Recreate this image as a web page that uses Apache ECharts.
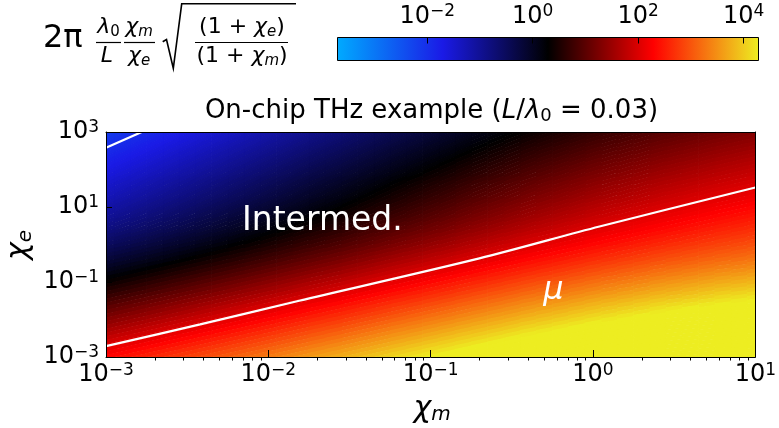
<!DOCTYPE html>
<html>
<head>
<meta charset="utf-8">
<script src="https://cdn.jsdelivr.net/npm/echarts@6/dist/echarts.min.js"></script>
<style>
  html, body { margin: 0; padding: 0; background: #fff; }
  #chart { width: 779px; height: 428px; }
</style>
</head>
<body>
<div id="chart"></div>
<script>
// log10(chi_m) at the centre of each column
const chiMExp = [-3.0,-2.9,-2.8,-2.7,-2.6,-2.5,-2.4,-2.3,-2.2,-2.1,-2.0,-1.9,-1.8,-1.7,-1.6,-1.5,-1.4,-1.3,-1.2,-1.1,-1.0,
                 -0.9,-0.8,-0.7,-0.6,-0.5,-0.4,-0.3,-0.2,-0.1,0.0,0.1,0.2,0.3,0.4,0.5,0.6,0.7,0.8,0.9,1.0];

// log10(chi_e) at the centre of each row, top row first
const chiEExp = [3.0,2.9,2.8,2.7,2.6,2.5,2.4,2.3,2.2,2.1,2.0,1.9,1.8,1.7,1.6,1.5,1.4,1.3,1.2,1.1,1.0,
                 0.9,0.8,0.7,0.6,0.5,0.4,0.3,0.2,0.1,0.0,-0.1,-0.2,-0.3,-0.4,-0.5,-0.6,-0.7,-0.8,-0.9,-1.0,
                 -1.1,-1.2,-1.3,-1.4,-1.5,-1.6,-1.7,-1.8,-1.9,-2.0,-2.1,-2.2,-2.3,-2.4,-2.5,-2.6,-2.7,-2.8,-2.9,-3.0];

// log10 of the plotted ratio, one row per chi_e value (same order as chiEExp)
const log10Ratio = [
  [-2.18,-2.08,-1.98,-1.88,-1.78,-1.68,-1.58,-1.48,-1.38,-1.28,-1.18,-1.08,-0.98,-0.88,-0.79,-0.69,-0.59,-0.49,-0.39,-0.30,-0.20,-0.11,-0.01,0.08,0.17,0.26,0.35,0.43,0.51,0.59,0.67,0.74,0.81,0.88,0.95,1.01,1.07,1.13,1.19,1.24,1.30],
  [-2.13,-2.03,-1.93,-1.83,-1.73,-1.63,-1.53,-1.43,-1.33,-1.23,-1.13,-1.03,-0.93,-0.83,-0.74,-0.64,-0.54,-0.44,-0.34,-0.25,-0.15,-0.06,0.04,0.13,0.22,0.31,0.40,0.48,0.56,0.64,0.72,0.79,0.86,0.93,1.00,1.06,1.12,1.18,1.24,1.29,1.35],
  [-2.08,-1.98,-1.88,-1.78,-1.68,-1.58,-1.48,-1.38,-1.28,-1.18,-1.08,-0.98,-0.88,-0.78,-0.69,-0.59,-0.49,-0.39,-0.29,-0.20,-0.10,-0.01,0.09,0.18,0.27,0.36,0.45,0.53,0.61,0.69,0.77,0.84,0.91,0.98,1.05,1.11,1.17,1.23,1.29,1.34,1.40],
  [-2.03,-1.93,-1.83,-1.73,-1.63,-1.53,-1.43,-1.33,-1.23,-1.13,-1.03,-0.93,-0.83,-0.73,-0.64,-0.54,-0.44,-0.34,-0.24,-0.15,-0.05,0.04,0.14,0.23,0.32,0.41,0.50,0.58,0.66,0.74,0.82,0.89,0.96,1.03,1.10,1.16,1.22,1.28,1.34,1.39,1.45],
  [-1.98,-1.88,-1.78,-1.68,-1.58,-1.48,-1.38,-1.28,-1.18,-1.08,-0.98,-0.88,-0.78,-0.68,-0.59,-0.49,-0.39,-0.29,-0.19,-0.10,0.00,0.09,0.19,0.28,0.37,0.46,0.55,0.63,0.71,0.79,0.87,0.94,1.01,1.08,1.15,1.21,1.27,1.33,1.39,1.44,1.50],
  [-1.93,-1.83,-1.73,-1.63,-1.53,-1.43,-1.33,-1.23,-1.13,-1.03,-0.93,-0.83,-0.73,-0.63,-0.54,-0.44,-0.34,-0.24,-0.14,-0.05,0.05,0.14,0.24,0.33,0.42,0.51,0.60,0.68,0.76,0.84,0.92,0.99,1.06,1.13,1.20,1.26,1.32,1.38,1.44,1.49,1.55],
  [-1.88,-1.78,-1.68,-1.58,-1.48,-1.38,-1.28,-1.18,-1.08,-0.98,-0.88,-0.78,-0.68,-0.58,-0.49,-0.39,-0.29,-0.19,-0.09,0.00,0.10,0.19,0.29,0.38,0.47,0.56,0.65,0.73,0.81,0.89,0.97,1.04,1.11,1.18,1.25,1.31,1.37,1.43,1.49,1.54,1.60],
  [-1.83,-1.73,-1.63,-1.53,-1.43,-1.33,-1.23,-1.13,-1.03,-0.93,-0.83,-0.73,-0.63,-0.53,-0.44,-0.34,-0.24,-0.14,-0.04,0.05,0.15,0.24,0.34,0.43,0.52,0.61,0.70,0.78,0.86,0.94,1.02,1.09,1.16,1.23,1.30,1.36,1.42,1.48,1.54,1.59,1.65],
  [-1.78,-1.68,-1.58,-1.48,-1.38,-1.28,-1.18,-1.08,-0.98,-0.88,-0.78,-0.68,-0.58,-0.48,-0.39,-0.29,-0.19,-0.09,0.01,0.10,0.20,0.29,0.39,0.48,0.57,0.66,0.75,0.83,0.91,0.99,1.07,1.14,1.21,1.28,1.35,1.41,1.47,1.53,1.59,1.64,1.70],
  [-1.73,-1.63,-1.53,-1.43,-1.33,-1.23,-1.13,-1.03,-0.93,-0.83,-0.73,-0.63,-0.53,-0.43,-0.34,-0.24,-0.14,-0.04,0.06,0.15,0.25,0.34,0.44,0.53,0.62,0.71,0.80,0.88,0.96,1.04,1.12,1.19,1.26,1.33,1.40,1.46,1.52,1.58,1.64,1.69,1.75],
  [-1.68,-1.58,-1.48,-1.38,-1.28,-1.18,-1.08,-0.98,-0.88,-0.78,-0.68,-0.58,-0.48,-0.38,-0.29,-0.19,-0.09,0.01,0.11,0.20,0.30,0.39,0.49,0.58,0.67,0.76,0.85,0.93,1.01,1.09,1.17,1.24,1.31,1.38,1.45,1.51,1.57,1.63,1.69,1.74,1.80],
  [-1.63,-1.53,-1.43,-1.33,-1.23,-1.13,-1.03,-0.93,-0.83,-0.73,-0.63,-0.53,-0.43,-0.33,-0.24,-0.14,-0.04,0.06,0.16,0.25,0.35,0.44,0.54,0.63,0.72,0.81,0.90,0.98,1.06,1.14,1.22,1.29,1.36,1.43,1.50,1.56,1.62,1.68,1.74,1.79,1.85],
  [-1.58,-1.48,-1.38,-1.28,-1.18,-1.08,-0.98,-0.88,-0.78,-0.68,-0.58,-0.48,-0.38,-0.28,-0.19,-0.09,0.01,0.11,0.21,0.30,0.40,0.49,0.59,0.68,0.77,0.86,0.95,1.03,1.11,1.19,1.27,1.34,1.41,1.48,1.55,1.61,1.67,1.73,1.79,1.84,1.90],
  [-1.52,-1.42,-1.32,-1.22,-1.12,-1.02,-0.92,-0.82,-0.72,-0.62,-0.52,-0.42,-0.32,-0.22,-0.13,-0.03,0.07,0.17,0.27,0.36,0.46,0.55,0.65,0.74,0.83,0.92,1.01,1.09,1.17,1.25,1.33,1.40,1.47,1.54,1.61,1.67,1.73,1.79,1.85,1.90,1.96],
  [-1.47,-1.37,-1.27,-1.17,-1.07,-0.97,-0.87,-0.77,-0.67,-0.57,-0.47,-0.37,-0.27,-0.17,-0.08,0.02,0.12,0.22,0.32,0.41,0.51,0.60,0.70,0.79,0.88,0.97,1.06,1.14,1.22,1.30,1.38,1.45,1.52,1.59,1.66,1.72,1.78,1.84,1.90,1.95,2.01],
  [-1.42,-1.32,-1.22,-1.12,-1.02,-0.92,-0.82,-0.72,-0.62,-0.52,-0.42,-0.32,-0.22,-0.12,-0.03,0.07,0.17,0.27,0.37,0.46,0.56,0.65,0.75,0.84,0.93,1.02,1.11,1.19,1.27,1.35,1.43,1.50,1.57,1.64,1.71,1.77,1.83,1.89,1.95,2.00,2.06],
  [-1.37,-1.27,-1.17,-1.07,-0.97,-0.87,-0.77,-0.67,-0.57,-0.47,-0.37,-0.27,-0.17,-0.07,0.02,0.12,0.22,0.32,0.42,0.51,0.61,0.70,0.80,0.89,0.98,1.07,1.16,1.24,1.32,1.40,1.48,1.55,1.62,1.69,1.76,1.82,1.88,1.94,2.00,2.05,2.11],
  [-1.32,-1.22,-1.12,-1.02,-0.92,-0.82,-0.72,-0.62,-0.52,-0.42,-0.32,-0.22,-0.12,-0.02,0.07,0.17,0.27,0.37,0.47,0.56,0.66,0.75,0.85,0.94,1.03,1.12,1.21,1.29,1.37,1.45,1.53,1.60,1.67,1.74,1.81,1.87,1.93,1.99,2.05,2.10,2.16],
  [-1.27,-1.17,-1.07,-0.97,-0.87,-0.77,-0.67,-0.57,-0.47,-0.37,-0.27,-0.17,-0.07,0.03,0.12,0.22,0.32,0.42,0.52,0.61,0.71,0.80,0.90,0.99,1.08,1.17,1.26,1.34,1.42,1.50,1.58,1.65,1.72,1.79,1.86,1.92,1.98,2.04,2.10,2.15,2.21],
  [-1.21,-1.11,-1.01,-0.91,-0.81,-0.71,-0.61,-0.51,-0.41,-0.31,-0.21,-0.11,-0.01,0.09,0.18,0.28,0.38,0.48,0.58,0.67,0.77,0.86,0.96,1.05,1.14,1.23,1.32,1.40,1.48,1.56,1.64,1.71,1.78,1.85,1.92,1.98,2.04,2.10,2.16,2.21,2.27],
  [-1.16,-1.06,-0.96,-0.86,-0.76,-0.66,-0.56,-0.46,-0.36,-0.26,-0.16,-0.06,0.04,0.14,0.23,0.33,0.43,0.53,0.63,0.72,0.82,0.91,1.01,1.10,1.19,1.28,1.37,1.45,1.53,1.61,1.69,1.76,1.83,1.90,1.97,2.03,2.09,2.15,2.21,2.26,2.32],
  [-1.10,-1.00,-0.90,-0.80,-0.70,-0.60,-0.50,-0.40,-0.30,-0.20,-0.10,0.00,0.10,0.20,0.29,0.39,0.49,0.59,0.69,0.78,0.88,0.97,1.07,1.16,1.25,1.34,1.43,1.51,1.59,1.67,1.75,1.82,1.89,1.96,2.03,2.09,2.15,2.21,2.27,2.32,2.38],
  [-1.05,-0.95,-0.85,-0.75,-0.65,-0.55,-0.45,-0.35,-0.25,-0.15,-0.05,0.05,0.15,0.25,0.34,0.44,0.54,0.64,0.74,0.83,0.93,1.02,1.12,1.21,1.30,1.39,1.48,1.56,1.64,1.72,1.80,1.87,1.94,2.01,2.08,2.14,2.20,2.26,2.32,2.37,2.43],
  [-0.99,-0.89,-0.79,-0.69,-0.59,-0.49,-0.39,-0.29,-0.19,-0.09,0.01,0.11,0.21,0.31,0.40,0.50,0.60,0.70,0.80,0.89,0.99,1.08,1.18,1.27,1.36,1.45,1.54,1.62,1.70,1.78,1.86,1.93,2.00,2.07,2.14,2.20,2.26,2.32,2.38,2.43,2.49],
  [-0.93,-0.83,-0.73,-0.63,-0.53,-0.43,-0.33,-0.23,-0.13,-0.03,0.07,0.17,0.27,0.37,0.46,0.56,0.66,0.76,0.86,0.95,1.05,1.14,1.24,1.33,1.42,1.51,1.60,1.68,1.76,1.84,1.92,1.99,2.06,2.13,2.20,2.26,2.32,2.38,2.44,2.49,2.55],
  [-0.87,-0.77,-0.67,-0.57,-0.47,-0.37,-0.27,-0.17,-0.07,0.03,0.13,0.23,0.33,0.43,0.52,0.62,0.72,0.82,0.92,1.01,1.11,1.20,1.30,1.39,1.48,1.57,1.66,1.74,1.82,1.90,1.98,2.05,2.12,2.19,2.26,2.32,2.38,2.44,2.50,2.55,2.61],
  [-0.81,-0.71,-0.61,-0.51,-0.41,-0.31,-0.21,-0.11,-0.01,0.09,0.19,0.29,0.39,0.49,0.58,0.68,0.78,0.88,0.98,1.07,1.17,1.26,1.36,1.45,1.54,1.63,1.72,1.80,1.88,1.96,2.04,2.11,2.18,2.25,2.32,2.38,2.44,2.50,2.56,2.61,2.67],
  [-0.74,-0.64,-0.54,-0.44,-0.34,-0.24,-0.14,-0.04,0.06,0.16,0.26,0.36,0.46,0.56,0.65,0.75,0.85,0.95,1.05,1.14,1.24,1.33,1.43,1.52,1.61,1.70,1.79,1.87,1.95,2.03,2.11,2.18,2.25,2.32,2.39,2.45,2.51,2.57,2.63,2.68,2.74],
  [-0.67,-0.57,-0.47,-0.37,-0.27,-0.17,-0.07,0.03,0.13,0.23,0.33,0.43,0.53,0.63,0.72,0.82,0.92,1.02,1.12,1.21,1.31,1.40,1.50,1.59,1.68,1.77,1.86,1.94,2.02,2.10,2.18,2.25,2.32,2.39,2.46,2.52,2.58,2.64,2.70,2.75,2.81],
  [-0.60,-0.50,-0.40,-0.30,-0.20,-0.10,0.00,0.10,0.20,0.30,0.40,0.50,0.60,0.70,0.79,0.89,0.99,1.09,1.19,1.28,1.38,1.47,1.57,1.66,1.75,1.84,1.93,2.01,2.09,2.17,2.25,2.32,2.39,2.46,2.53,2.59,2.65,2.71,2.77,2.82,2.88],
  [-0.53,-0.43,-0.33,-0.23,-0.13,-0.03,0.07,0.17,0.27,0.37,0.47,0.57,0.67,0.77,0.86,0.96,1.06,1.16,1.26,1.35,1.45,1.54,1.64,1.73,1.82,1.91,2.00,2.08,2.16,2.24,2.32,2.39,2.46,2.53,2.60,2.66,2.72,2.78,2.84,2.89,2.95],
  [-0.45,-0.35,-0.25,-0.15,-0.05,0.05,0.15,0.25,0.35,0.45,0.55,0.65,0.75,0.85,0.94,1.04,1.14,1.24,1.34,1.43,1.53,1.62,1.72,1.81,1.90,1.99,2.08,2.16,2.24,2.32,2.40,2.47,2.54,2.61,2.68,2.74,2.80,2.86,2.92,2.97,3.03],
  [-0.37,-0.27,-0.17,-0.07,0.03,0.13,0.23,0.33,0.43,0.53,0.63,0.73,0.83,0.93,1.02,1.12,1.22,1.32,1.42,1.51,1.61,1.70,1.80,1.89,1.98,2.07,2.16,2.24,2.32,2.40,2.48,2.55,2.62,2.69,2.76,2.82,2.88,2.94,3.00,3.05,3.11],
  [-0.29,-0.19,-0.09,0.01,0.11,0.21,0.31,0.41,0.51,0.61,0.71,0.81,0.91,1.01,1.10,1.20,1.30,1.40,1.50,1.59,1.69,1.78,1.88,1.97,2.06,2.15,2.24,2.32,2.40,2.48,2.56,2.63,2.70,2.77,2.84,2.90,2.96,3.02,3.08,3.13,3.19],
  [-0.21,-0.11,-0.01,0.09,0.19,0.29,0.39,0.49,0.59,0.69,0.79,0.89,0.99,1.09,1.18,1.28,1.38,1.48,1.58,1.67,1.77,1.86,1.96,2.05,2.14,2.23,2.32,2.40,2.48,2.56,2.64,2.71,2.78,2.85,2.92,2.98,3.04,3.10,3.16,3.21,3.27],
  [-0.12,-0.02,0.08,0.18,0.28,0.38,0.48,0.58,0.68,0.78,0.88,0.98,1.08,1.18,1.27,1.37,1.47,1.57,1.67,1.76,1.86,1.95,2.05,2.14,2.23,2.32,2.41,2.49,2.57,2.65,2.73,2.80,2.87,2.94,3.01,3.07,3.13,3.19,3.25,3.30,3.36],
  [-0.03,0.07,0.17,0.27,0.37,0.47,0.57,0.67,0.77,0.87,0.97,1.07,1.17,1.27,1.36,1.46,1.56,1.66,1.76,1.85,1.95,2.04,2.14,2.23,2.32,2.41,2.50,2.58,2.66,2.74,2.82,2.89,2.96,3.03,3.10,3.16,3.22,3.28,3.34,3.39,3.45],
  [0.06,0.16,0.26,0.36,0.46,0.56,0.66,0.76,0.86,0.96,1.06,1.16,1.26,1.36,1.45,1.55,1.65,1.75,1.85,1.94,2.04,2.13,2.23,2.32,2.41,2.50,2.59,2.67,2.75,2.83,2.91,2.98,3.05,3.12,3.19,3.25,3.31,3.37,3.43,3.48,3.54],
  [0.15,0.25,0.35,0.45,0.55,0.65,0.75,0.85,0.95,1.05,1.15,1.25,1.35,1.45,1.54,1.64,1.74,1.84,1.94,2.03,2.13,2.22,2.32,2.41,2.50,2.59,2.68,2.76,2.84,2.92,3.00,3.07,3.14,3.21,3.28,3.34,3.40,3.46,3.52,3.57,3.63],
  [0.25,0.35,0.45,0.55,0.65,0.75,0.85,0.95,1.05,1.15,1.25,1.35,1.45,1.55,1.64,1.74,1.84,1.94,2.04,2.13,2.23,2.32,2.42,2.51,2.60,2.69,2.78,2.86,2.94,3.02,3.10,3.17,3.24,3.31,3.38,3.44,3.50,3.56,3.62,3.67,3.73],
  [0.34,0.44,0.54,0.64,0.74,0.84,0.94,1.04,1.14,1.24,1.34,1.44,1.54,1.64,1.73,1.83,1.93,2.03,2.13,2.22,2.32,2.41,2.51,2.60,2.69,2.78,2.87,2.95,3.03,3.11,3.19,3.26,3.33,3.40,3.47,3.53,3.59,3.65,3.71,3.76,3.82],
  [0.44,0.54,0.64,0.74,0.84,0.94,1.04,1.14,1.24,1.34,1.44,1.54,1.64,1.74,1.83,1.93,2.03,2.13,2.23,2.32,2.42,2.51,2.61,2.70,2.79,2.88,2.97,3.05,3.13,3.21,3.29,3.36,3.43,3.50,3.57,3.63,3.69,3.75,3.81,3.86,3.92],
  [0.53,0.63,0.73,0.83,0.93,1.03,1.13,1.23,1.33,1.43,1.53,1.63,1.73,1.83,1.92,2.02,2.12,2.22,2.32,2.41,2.51,2.60,2.70,2.79,2.88,2.97,3.06,3.14,3.22,3.30,3.38,3.45,3.52,3.59,3.66,3.72,3.78,3.84,3.90,3.95,4.01],
  [0.63,0.73,0.83,0.93,1.03,1.13,1.23,1.33,1.43,1.53,1.63,1.73,1.83,1.93,2.02,2.12,2.22,2.32,2.42,2.51,2.61,2.70,2.80,2.89,2.98,3.07,3.16,3.24,3.32,3.40,3.48,3.55,3.62,3.69,3.76,3.82,3.88,3.94,4.00,4.05,4.11],
  [0.73,0.83,0.93,1.03,1.13,1.23,1.33,1.43,1.53,1.63,1.73,1.83,1.93,2.03,2.12,2.22,2.32,2.42,2.52,2.61,2.71,2.80,2.90,2.99,3.08,3.17,3.26,3.34,3.42,3.50,3.58,3.65,3.72,3.79,3.86,3.92,3.98,4.04,4.10,4.15,4.21],
  [0.83,0.93,1.03,1.13,1.23,1.33,1.43,1.53,1.63,1.73,1.83,1.93,2.03,2.13,2.22,2.32,2.42,2.52,2.62,2.71,2.81,2.90,3.00,3.09,3.18,3.27,3.36,3.44,3.52,3.60,3.68,3.75,3.82,3.89,3.96,4.02,4.08,4.14,4.20,4.25,4.31],
  [0.93,1.03,1.13,1.23,1.33,1.43,1.53,1.63,1.73,1.83,1.93,2.03,2.13,2.23,2.32,2.42,2.52,2.62,2.72,2.81,2.91,3.00,3.10,3.19,3.28,3.37,3.46,3.54,3.62,3.70,3.78,3.85,3.92,3.99,4.06,4.12,4.18,4.24,4.30,4.35,4.41],
  [1.03,1.13,1.23,1.33,1.43,1.53,1.63,1.73,1.83,1.93,2.03,2.13,2.23,2.33,2.42,2.52,2.62,2.72,2.82,2.91,3.01,3.10,3.20,3.29,3.38,3.47,3.56,3.64,3.72,3.80,3.88,3.95,4.02,4.09,4.16,4.22,4.28,4.34,4.40,4.45,4.51],
  [1.12,1.22,1.32,1.42,1.52,1.62,1.72,1.82,1.92,2.02,2.12,2.22,2.32,2.42,2.51,2.61,2.71,2.81,2.91,3.00,3.10,3.19,3.29,3.38,3.47,3.56,3.65,3.73,3.81,3.89,3.97,4.04,4.11,4.18,4.25,4.31,4.37,4.43,4.49,4.54,4.60],
  [1.22,1.32,1.42,1.52,1.62,1.72,1.82,1.92,2.02,2.12,2.22,2.32,2.42,2.52,2.61,2.71,2.81,2.91,3.01,3.10,3.20,3.29,3.39,3.48,3.57,3.66,3.75,3.83,3.91,3.99,4.07,4.14,4.21,4.28,4.35,4.41,4.47,4.53,4.59,4.64,4.70],
  [1.32,1.42,1.52,1.62,1.72,1.82,1.92,2.02,2.12,2.22,2.32,2.42,2.52,2.62,2.71,2.81,2.91,3.01,3.11,3.20,3.30,3.39,3.49,3.58,3.67,3.76,3.85,3.93,4.01,4.09,4.17,4.24,4.31,4.38,4.45,4.51,4.57,4.63,4.69,4.74,4.80],
  [1.42,1.52,1.62,1.72,1.82,1.92,2.02,2.12,2.22,2.32,2.42,2.52,2.62,2.72,2.81,2.91,3.01,3.11,3.21,3.30,3.40,3.49,3.59,3.68,3.77,3.86,3.95,4.03,4.11,4.19,4.27,4.34,4.41,4.48,4.55,4.61,4.67,4.73,4.79,4.84,4.90],
  [1.52,1.62,1.72,1.82,1.92,2.02,2.12,2.22,2.32,2.42,2.52,2.62,2.72,2.82,2.91,3.01,3.11,3.21,3.31,3.40,3.50,3.59,3.69,3.78,3.87,3.96,4.05,4.13,4.21,4.29,4.37,4.44,4.51,4.58,4.65,4.71,4.77,4.83,4.89,4.94,5.00],
  [1.62,1.72,1.82,1.92,2.02,2.12,2.22,2.32,2.42,2.52,2.62,2.72,2.82,2.92,3.01,3.11,3.21,3.31,3.41,3.50,3.60,3.69,3.79,3.88,3.97,4.06,4.15,4.23,4.31,4.39,4.47,4.54,4.61,4.68,4.75,4.81,4.87,4.93,4.99,5.04,5.10],
  [1.72,1.82,1.92,2.02,2.12,2.22,2.32,2.42,2.52,2.62,2.72,2.82,2.92,3.02,3.11,3.21,3.31,3.41,3.51,3.60,3.70,3.79,3.89,3.98,4.07,4.16,4.25,4.33,4.41,4.49,4.57,4.64,4.71,4.78,4.85,4.91,4.97,5.03,5.09,5.14,5.20],
  [1.82,1.92,2.02,2.12,2.22,2.32,2.42,2.52,2.62,2.72,2.82,2.92,3.02,3.12,3.21,3.31,3.41,3.51,3.61,3.70,3.80,3.89,3.99,4.08,4.17,4.26,4.35,4.43,4.51,4.59,4.67,4.74,4.81,4.88,4.95,5.01,5.07,5.13,5.19,5.24,5.30],
  [1.92,2.02,2.12,2.22,2.32,2.42,2.52,2.62,2.72,2.82,2.92,3.02,3.12,3.22,3.31,3.41,3.51,3.61,3.71,3.80,3.90,3.99,4.09,4.18,4.27,4.36,4.45,4.53,4.61,4.69,4.77,4.84,4.91,4.98,5.05,5.11,5.17,5.23,5.29,5.34,5.40],
  [2.02,2.12,2.22,2.32,2.42,2.52,2.62,2.72,2.82,2.92,3.02,3.12,3.22,3.32,3.41,3.51,3.61,3.71,3.81,3.90,4.00,4.09,4.19,4.28,4.37,4.46,4.55,4.63,4.71,4.79,4.87,4.94,5.01,5.08,5.15,5.21,5.27,5.33,5.39,5.44,5.50],
  [2.12,2.22,2.32,2.42,2.52,2.62,2.72,2.82,2.92,3.02,3.12,3.22,3.32,3.42,3.51,3.61,3.71,3.81,3.91,4.00,4.10,4.19,4.29,4.38,4.47,4.56,4.65,4.73,4.81,4.89,4.97,5.04,5.11,5.18,5.25,5.31,5.37,5.43,5.49,5.54,5.60],
  [2.22,2.32,2.42,2.52,2.62,2.72,2.82,2.92,3.02,3.12,3.22,3.32,3.42,3.52,3.61,3.71,3.81,3.91,4.01,4.10,4.20,4.29,4.39,4.48,4.57,4.66,4.75,4.83,4.91,4.99,5.07,5.14,5.21,5.28,5.35,5.41,5.47,5.53,5.59,5.64,5.70],
  [2.32,2.42,2.52,2.62,2.72,2.82,2.92,3.02,3.12,3.22,3.32,3.42,3.52,3.62,3.71,3.81,3.91,4.01,4.11,4.20,4.30,4.39,4.49,4.58,4.67,4.76,4.85,4.93,5.01,5.09,5.17,5.24,5.31,5.38,5.45,5.51,5.57,5.63,5.69,5.74,5.80]
];

// white boundary curves, points as [log10 chi_m, log10 chi_e]
const boundaryUpper = [[-3.0, 2.58], [-2.78, 3.0]];
const boundaryLower = [[-3.0, -2.71], [-2.42, -2.13], [-1.81, -1.50], [-0.70, -0.37], [0.04, 0.48], [1.0, 1.52]];

// tick exponents (labels are drawn as 10^n)
const xTickExp = [-3, -2, -1, 0, 1];
const yTickExp = [-3, -1, 1, 3];
const barTickExp = [-2, 0, 2, 4];
const minorMultiples = [2, 3, 4, 5, 6, 7, 8, 9];

// colour scale limits (log10) and colormap stops
const colorRange = [-3.7, 4.28];
const colormap = ['#00aaff', '#1a1ae6', '#000000', '#ff0000', '#eded21'];

const FONT = 'DejaVu Sans';

const nRows = chiEExp.length;
const nCols = chiMExp.length;

const cells = [];
chiEExp.forEach((e, i) => {
  chiMExp.forEach((m, j) => { cells.push([m, e, log10Ratio[i][j]]); });
});

const halfX = Math.abs(chiMExp[1] - chiMExp[0]) / 2;
const halfY = Math.abs(chiEExp[0] - chiEExp[1]) / 2;

// Local direction of constant value, from neighbouring cells: each cell is drawn
// as a parallelogram sheared along it so that the colour bands run smoothly.
function isoSlope(i, j) {
  const jl = Math.max(j - 1, 0), jr = Math.min(j + 1, nCols - 1);
  const iu = Math.max(i - 1, 0), id = Math.min(i + 1, nRows - 1);
  const dvdx = (log10Ratio[i][jr] - log10Ratio[i][jl]) / (chiMExp[jr] - chiMExp[jl]);
  const dvdy = (log10Ratio[iu][j] - log10Ratio[id][j]) / (chiEExp[iu] - chiEExp[id]);
  if (!(dvdy < 0)) return 0;
  return Math.max(0, Math.min(4, -dvdx / dvdy));
}

function renderCell(params, api) {
  const idx = params.dataIndex;
  const i = Math.floor(idx / nCols), j = idx % nCols;
  const m = api.value(0);
  const e = api.value(1);
  const s = isoSlope(i, j) * halfX;
  let top = e + halfY, bottom = e - halfY;
  if (i === 0) top += 0.4;
  if (i === nRows - 1) bottom -= 0.4;
  const p1 = api.coord([m - halfX, top - s]);
  const p2 = api.coord([m + halfX, top + s]);
  const p3 = api.coord([m + halfX, bottom + s]);
  const p4 = api.coord([m - halfX, bottom - s]);
  const pad = 0.35;
  return {
    type: 'polygon',
    shape: { points: [
      [p1[0] - pad, p1[1] - pad], [p2[0] + pad, p2[1] - pad],
      [p3[0] + pad, p3[1] + pad], [p4[0] - pad, p4[1] + pad]
    ] },
    style: { fill: api.visual('color') }
  };
}

const minorTicks = [];
xTickExp.slice(0, -1).forEach(d => {
  minorMultiples.forEach(k => minorTicks.push(d + Math.log10(k)));
});

function powLabel(v) {
  const n = Math.round(v);
  return '{b|10}{s|' + (n < 0 ? '\u2212' + (-n) : String(n)) + '}';
}
const powRich = {
  b: { fontFamily: FONT, fontSize: 24, lineHeight: 26, color: '#000', verticalAlign: 'middle' },
  s: { fontFamily: FONT, fontSize: 17, lineHeight: 9, color: '#000', verticalAlign: 'top' }
};

const black = { color: '#000', width: 1 };

// text styles for the formula and annotations
const mathRich = {
  n: { fontFamily: FONT, fontSize: 22, lineHeight: 24, fill: '#000', verticalAlign: 'middle' },
  i: { fontFamily: FONT, fontSize: 22, lineHeight: 24, fill: '#000', fontStyle: 'italic', verticalAlign: 'middle' },
  d: { fontFamily: FONT, fontSize: 15, lineHeight: 9, fill: '#000', verticalAlign: 'bottom' },
  di: { fontFamily: FONT, fontSize: 15, lineHeight: 9, fill: '#000', fontStyle: 'italic', verticalAlign: 'bottom' }
};
function mathText(x, y, text) {
  return {
    type: 'text', x: x, y: y, z: 50,
    style: { text: text, align: 'center', verticalAlign: 'middle', rich: mathRich, fill: '#000', fontFamily: FONT, fontSize: 22 }
  };
}
function bar(x1, x2, y) {
  return { type: 'line', z: 50, shape: { x1: x1, y1: y, x2: x2, y2: y }, style: { stroke: '#000', lineWidth: 1.2 } };
}

const labelRich = {
  c: { fontFamily: FONT, fontSize: 30, lineHeight: 32, fill: '#000', fontStyle: 'italic', verticalAlign: 'middle' },
  s: { fontFamily: FONT, fontSize: 20, lineHeight: 12, fill: '#000', fontStyle: 'italic', verticalAlign: 'bottom' }
};

const titleRich = {
  n: { fontFamily: FONT, fontSize: 26, lineHeight: 28, fill: '#000', verticalAlign: 'middle' },
  i: { fontFamily: FONT, fontSize: 26, lineHeight: 28, fill: '#000', fontStyle: 'italic', verticalAlign: 'middle' },
  d: { fontFamily: FONT, fontSize: 18, lineHeight: 13, fill: '#000', verticalAlign: 'bottom' }
};

const chart = echarts.init(document.getElementById('chart'), null, { renderer: 'canvas' });

const option = {
  animation: false,
  backgroundColor: '#ffffff',
  grid: [
    { left: 106, right: 23.5, top: 132, bottom: 71 },
    { left: 337.5, top: 37.5, width: 421, height: 23 }
  ],
  xAxis: [
    {
      gridIndex: 0, type: 'value', min: -3, max: 1, position: 'bottom', z: 10,
      axisLine: { show: true, onZero: false, lineStyle: black },
      axisTick: { show: true, inside: true, length: 7, customValues: xTickExp, lineStyle: black },
      axisLabel: { show: true, customValues: xTickExp, formatter: powLabel, rich: powRich, margin: 5, color: '#000' },
      splitLine: { show: false }
    },
    {
      gridIndex: 0, type: 'value', min: -3, max: 1, position: 'bottom', z: 10,
      axisLine: { show: false, onZero: false },
      axisTick: { show: true, inside: false, length: 3.5, customValues: minorTicks, lineStyle: black },
      axisLabel: { show: false },
      splitLine: { show: false }
    },
    {
      gridIndex: 0, type: 'value', min: -3, max: 1, position: 'top', z: 10,
      axisLine: { show: true, onZero: false, lineStyle: black },
      axisTick: { show: false }, axisLabel: { show: false }, splitLine: { show: false }
    },
    {
      gridIndex: 1, type: 'value', min: colorRange[0], max: colorRange[1], position: 'top', z: 10,
      axisLine: { show: false, onZero: false },
      axisTick: { show: true, inside: true, length: 6, customValues: barTickExp, lineStyle: black },
      axisLabel: { show: true, customValues: barTickExp, formatter: powLabel, rich: powRich, margin: 8, color: '#000' },
      splitLine: { show: false }
    }
  ],
  yAxis: [
    {
      gridIndex: 0, type: 'value', min: -3, max: 3, position: 'left', z: 10,
      axisLine: { show: true, onZero: false, lineStyle: black },
      axisTick: { show: true, inside: true, length: 6, customValues: yTickExp, lineStyle: black },
      axisLabel: { show: true, customValues: yTickExp, formatter: powLabel, rich: powRich, margin: 7, color: '#000' },
      splitLine: { show: false }
    },
    {
      gridIndex: 0, type: 'value', min: -3, max: 3, position: 'right', z: 10,
      axisLine: { show: true, onZero: false, lineStyle: black },
      axisTick: { show: false }, axisLabel: { show: false }, splitLine: { show: false }
    },
    { gridIndex: 1, type: 'value', min: 0, max: 1, show: false }
  ],
  visualMap: {
    type: 'continuous', show: false, seriesIndex: 0, dimension: 2,
    min: colorRange[0], max: colorRange[1],
    inRange: { color: colormap }
  },
  series: [
    {
      type: 'custom', xAxisIndex: 0, yAxisIndex: 0, data: cells,
      encode: { x: 0, y: 1 }, renderItem: renderCell, clip: true, silent: true, z: 1
    },
    {
      type: 'line', xAxisIndex: 0, yAxisIndex: 0, data: boundaryLower, smooth: 0.3,
      symbol: 'none', showSymbol: false, clip: true, silent: true, z: 3,
      lineStyle: { color: '#ffffff', width: 2.2 }
    },
    {
      type: 'line', xAxisIndex: 0, yAxisIndex: 0, data: boundaryUpper,
      symbol: 'none', showSymbol: false, clip: true, silent: true, z: 3,
      lineStyle: { color: '#ffffff', width: 2.2 }
    }
  ],
  graphic: [
    // colour bar
    {
      type: 'rect', z: 1,
      shape: { x: 337.5, y: 37.5, width: 421, height: 23 },
      style: {
        fill: new echarts.graphic.LinearGradient(0, 0, 1, 0,
          colormap.map((c, i) => ({ offset: i / (colormap.length - 1), color: c })))
      }
    },
    {
      type: 'rect', z: 60,
      shape: { x: 337.5, y: 37.5, width: 421, height: 23 },
      style: { fill: 'none', stroke: '#000', lineWidth: 1 }
    },
    // formula
    {
      type: 'text', x: 43, y: 39, z: 50,
      style: { text: '2\u03c0', fontFamily: FONT, fontSize: 32, fill: '#000', align: 'left', verticalAlign: 'middle' }
    },
    mathText(108.5, 27.5, '{i|\u03bb}{d|0}'),
    bar(96, 121, 42.5),
    mathText(107, 56.5, '{i|L}'),
    mathText(139, 27.5, '{i|\u03c7}{di|m}'),
    bar(124, 155, 42.5),
    mathText(139, 56.5, '{i|\u03c7}{di|e}'),
    {
      type: 'polyline', z: 50,
      shape: { points: [[162.7, 41.7], [166.5, 39.5], [173.3, 68.3], [181.7, 3.8], [296, 3.8]] },
      style: { stroke: '#000', lineWidth: 1.6, fill: null }
    },
    mathText(242, 27.5, '{n|(1 + }{i|\u03c7}{di|e}{n|)}'),
    bar(195, 288, 42.5),
    mathText(242, 56.5, '{n|(1 + }{i|\u03c7}{di|m}{n|)}'),
    // title
    {
      type: 'text', x: 431.5, y: 111, z: 50,
      style: {
        text: '{n|On-chip THz example (}{i|L}{n|/}{i|\u03bb}{d|0}{n| = 0.03)}',
        align: 'center', verticalAlign: 'middle', rich: titleRich, fill: '#000', fontFamily: FONT, fontSize: 26
      }
    },
    // axis titles
    {
      type: 'text', x: 432, y: 409, z: 50,
      style: { text: '{c|\u03c7}{s|m}', align: 'center', verticalAlign: 'middle', rich: labelRich, fill: '#000', fontFamily: FONT, fontSize: 30 }
    },
    {
      type: 'text', x: 19.5, y: 245, z: 50, rotation: Math.PI / 2,
      style: { text: '{c|\u03c7}{s|e}', align: 'center', verticalAlign: 'middle', rich: labelRich, fill: '#000', fontFamily: FONT, fontSize: 30 }
    },
    // region annotations
    {
      type: 'text', x: 242, y: 221.5, z: 50,
      style: { text: 'Intermed.', fontFamily: FONT, fontSize: 33, fill: '#ffffff', align: 'left', verticalAlign: 'middle' }
    },
    {
      type: 'text', x: 553.5, y: 290.5, z: 50,
      style: { text: '\u03bc', fontFamily: FONT, fontSize: 32, fontStyle: 'italic', fill: '#ffffff', align: 'center', verticalAlign: 'middle' }
    }
  ]
};

chart.setOption(option);
</script>
</body>
</html>
